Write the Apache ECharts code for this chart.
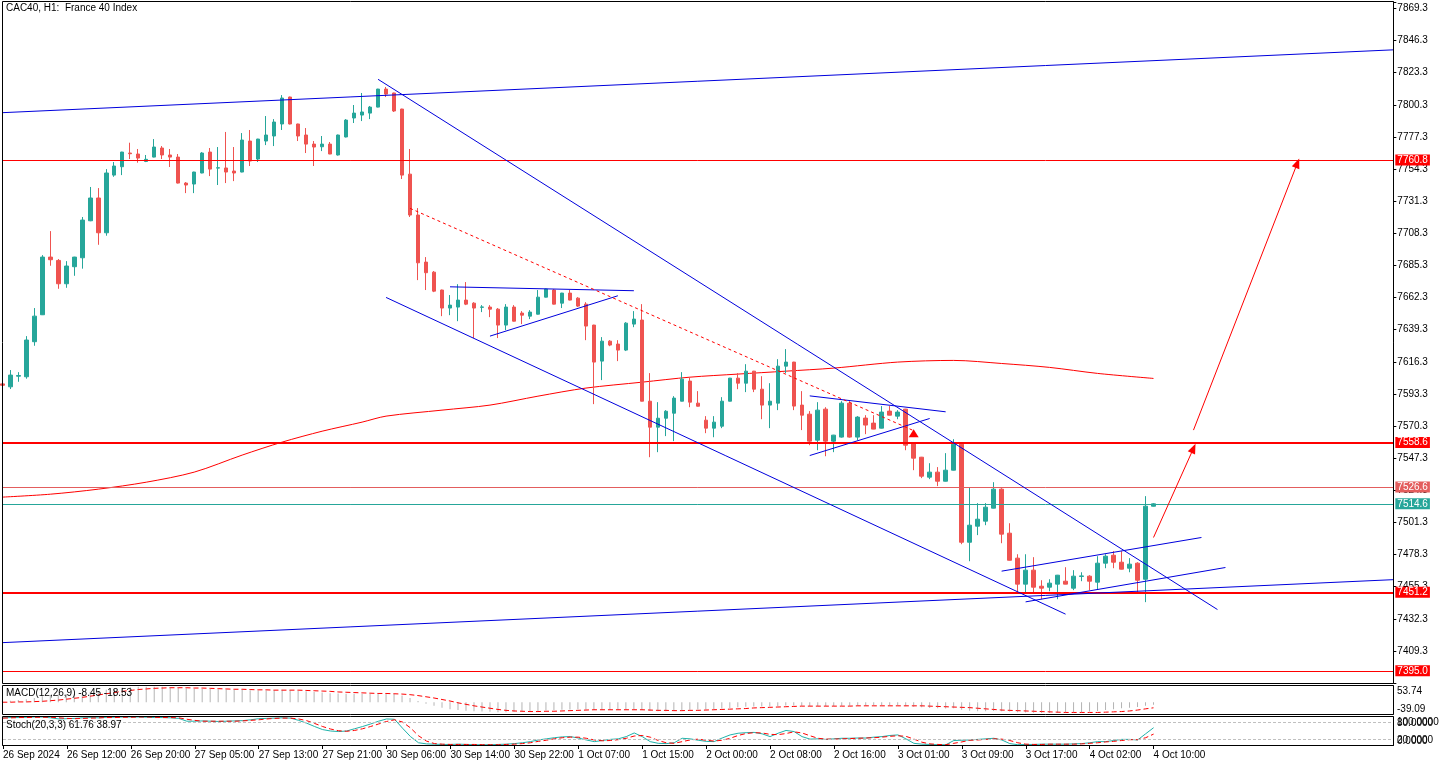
<!DOCTYPE html>
<html><head><meta charset="utf-8">
<script src="https://cdn.jsdelivr.net/npm/echarts@6/dist/echarts.min.js"></script>
<style>html,body{margin:0;padding:0;background:#fff}#c{width:1441px;height:766px}</style>
</head><body><div id="c"></div>
<script>
// ---------- data ----------
const tickLabels = ['26 Sep 2024','26 Sep 12:00','26 Sep 20:00','27 Sep 05:00','27 Sep 13:00','27 Sep 21:00','30 Sep 06:00','30 Sep 14:00','30 Sep 22:00','1 Oct 07:00','1 Oct 15:00','2 Oct 00:00','2 Oct 08:00','2 Oct 16:00','3 Oct 01:00','3 Oct 09:00','3 Oct 17:00','4 Oct 02:00','4 Oct 10:00'];

const opens = [7600.5,7598.4,7606.0,7605.6,7630.7,7650.0,7691.3,7688.9,7672.2,7684.4,
 7690.8,7717.3,7733.6,7708.7,7750.0,7756.0,7765.8,7765.1,7759.8,7762.9,
 7769.4,7764.4,7762.9,7744.3,7743.6,7751.5,7766.5,7755.0,7755.1,7752.9,
 7752.2,7774.4,7761.5,7774.4,7778.0,7786.6,7805.9,7786.6,7778.7,7772.2,
 7770.3,7772.2,7764.4,7777.3,7790.9,7793.0,7794.4,7798.7,7811.6,7808.8,
 7797.3,7750.7,7721.4,7687.7,7680.5,7667.7,7654.8,7655.5,7660.5,7658.3,
 7655.3,7655.5,7654.0,7642.6,7655.5,7651.2,7649.0,7650.4,7662.6,7667.7,
 7658.3,7665.5,7661.9,7657.6,7642.6,7616.8,7631.1,7629.0,7624.7,7643.3,
 7646.2,7588.1,7569.5,7575.9,7579.5,7588.1,7602.5,7586.7,7574.5,7568.8,
 7570.2,7588.1,7604.6,7601.0,7609.6,7596.7,7585.3,7586.7,7613.2,7616.1,
 7585.3,7578.8,7560.2,7582.4,7559.5,7562.4,7586.7,7562.4,7576.0,7572.4,
 7568.8,7581.0,7577.4,7582.4,7558.1,7548.0,7533.7,7537.3,7530.8,7538.7,
 7557.3,7487.1,7498.6,7502.2,7511.5,7525.1,7493.6,7475.7,7457.1,7467.1,
 7455.6,7454.9,7457.1,7459.2,7454.2,7462.6,7462.8,7458.5,7472.1,7477.8,
 7472.8,7468.5,7472.1,7460.6,7512.9];
const highs = [7601.5,7610.4,7608.9,7634.7,7654.8,7692.7,7709.9,7689.9,7688.4,7691.5,
 7720.0,7741.5,7740.7,7754.3,7759.4,7766.7,7773.2,7768.7,7764.4,7775.8,
 7770.8,7768.7,7765.1,7745.0,7752.4,7766.5,7769.4,7770.1,7780.9,7770.1,
 7780.1,7782.3,7776.0,7792.3,7790.1,7807.3,7806.2,7786.8,7783.7,7774.4,
 7778.0,7773.7,7779.0,7790.1,7800.2,7808.8,7799.5,7811.8,7813.1,7809.0,
 7797.5,7768.7,7726.4,7691.3,7681.3,7668.0,7664.1,7671.9,7673.4,7659.0,
 7656.9,7656.9,7654.8,7657.6,7656.9,7652.6,7653.3,7667.7,7668.6,7668.4,
 7665.7,7667.7,7662.6,7659.0,7642.8,7634.0,7631.8,7631.8,7644.7,7652.6,
 7657.6,7608.2,7587.4,7581.7,7591.7,7608.9,7605.3,7595.3,7577.4,7577.4,
 7591.0,7604.8,7608.2,7614.6,7609.8,7606.0,7601.0,7618.2,7625.4,7616.3,
 7595.3,7581.0,7587.4,7583.8,7564.0,7588.1,7588.1,7577.4,7578.1,7578.1,
 7584.6,7584.6,7581.7,7582.6,7558.3,7548.2,7543.7,7540.9,7550.9,7560.9,
 7558.8,7526.5,7515.1,7515.1,7530.1,7525.8,7500.7,7478.5,7478.5,7476.4,
 7459.9,7460.6,7463.7,7469.2,7467.1,7465.6,7463.5,7477.1,7478.5,7480.7,
 7480.7,7475.7,7472.8,7520.1,7515.1];
const lows = [7599.0,7596.8,7602.0,7604.2,7627.8,7649.8,7685.1,7668.6,7669.3,7677.9,
 7683.0,7717.0,7700.1,7706.6,7748.8,7750.0,7761.5,7758.9,7759.3,7762.7,
 7761.5,7755.8,7744.0,7737.1,7737.1,7751.3,7749.3,7742.9,7744.3,7745.7,
 7752.0,7756.5,7759.4,7771.5,7770.8,7782.3,7786.3,7774.4,7765.8,7756.5,
 7767.2,7765.0,7764.0,7777.0,7787.3,7788.7,7790.1,7798.5,7805.9,7795.2,
 7747.2,7720.0,7674.8,7667.7,7666.2,7649.0,7649.7,7645.4,7656.9,7633.3,
 7651.9,7648.3,7633.3,7639.0,7645.2,7643.3,7646.9,7650.2,7662.4,7657.4,
 7654.8,7660.3,7655.5,7631.8,7586.0,7603.2,7627.5,7616.8,7624.0,7641.1,
 7588.0,7548.0,7551.6,7563.1,7559.5,7588.0,7583.8,7584.3,7565.2,7562.3,
 7568.8,7588.0,7596.7,7594.6,7594.6,7575.2,7568.8,7581.7,7608.2,7581.7,
 7567.4,7556.6,7553.0,7548.7,7551.6,7562.0,7562.0,7560.2,7564.5,7568.0,
 7568.6,7578.0,7575.2,7553.0,7538.7,7533.0,7532.3,7527.3,7530.6,7538.5,
 7485.7,7473.5,7492.2,7499.3,7511.3,7486.4,7474.0,7451.3,7451.3,7451.3,
 7446.3,7452.0,7446.3,7457.0,7452.8,7459.2,7452.8,7453.5,7468.5,7468.5,
 7467.6,7465.6,7450.6,7444.2,7512.7];
const closes = [7599.5,7606.8,7606.5,7631.9,7649.0,7691.3,7689.4,7672.2,7684.9,7691.3,
 7717.8,7733.6,7708.7,7751.5,7756.5,7766.5,7765.3,7762.2,7761.3,7770.1,
 7764.4,7762.9,7744.3,7742.9,7752.2,7765.8,7754.3,7755.3,7752.2,7751.5,
 7775.1,7760.1,7775.8,7778.7,7788.0,7805.2,7786.6,7778.0,7772.2,7770.1,
 7772.2,7765.1,7778.7,7789.4,7794.4,7795.2,7798.7,7811.6,7808.0,7795.9,
 7750.0,7721.4,7687.2,7680.1,7666.9,7654.8,7656.9,7660.5,7657.6,7654.8,
 7655.6,7654.0,7642.6,7655.5,7645.4,7649.7,7651.9,7662.6,7668.4,7657.6,
 7665.5,7660.5,7656.2,7641.9,7616.1,7631.1,7628.3,7624.7,7644.0,7646.9,
 7588.1,7569.5,7575.9,7580.9,7590.3,7603.9,7587.4,7584.5,7568.8,7573.1,
 7588.1,7604.6,7601.0,7609.6,7596.7,7585.3,7588.1,7613.2,7616.1,7584.6,
 7578.1,7559.5,7581.7,7559.5,7563.8,7586.7,7562.4,7576.7,7571.0,7568.1,
 7580.3,7578.1,7580.3,7556.6,7547.3,7534.4,7537.3,7530.8,7538.7,7557.3,
 7487.1,7499.3,7503.6,7512.2,7525.1,7492.9,7474.2,7457.1,7467.1,7454.9,
 7454.2,7457.8,7463.5,7457.1,7462.8,7463.0,7459.2,7472.1,7477.1,7472.8,
 7467.8,7471.4,7459.9,7512.9,7514.6];

// moving average read at sample bars [barIndex, value]
const maPoints = [[0,7519.4],[6,7521.5],[12,7525.1],[18,7530.1],[24,7537.3],[30,7549.5],[35,7558.8],[40,7566.6],[45,7573.1],[48,7577.4],[55,7581.7],[61,7585.3],[67,7591.7],[73,7597.5],[80,7601.7],[86,7605.3],[92,7607.5],[98,7609.6],[104,7611.8],[112,7616.1],[119,7617.3],[125,7615.1],[131,7612.3],[137,7608.0],[144,7604.4]];

// horizontal levels
const levelValues = [7760.8, 7558.6, 7526.6, 7514.6, 7451.2, 7395.0];

// drawn objects: [barIndex, price]
const blueLines = [
 [[0,7794.7],[174,7839.7]],
 [[0,7415.2],[174,7460.3]],
 [[47,7818.6],[152,7438.9]],
 [[48,7662.4],[133,7435.6]],
 [[56,7670.0],[79,7667.2]],
 [[61,7634.7],[77,7663.6]],
 [[101,7591.9],[118,7580.5]],
 [[101,7549.2],[116,7575.7]],
 [[125,7466.4],[150,7490.5]],
 [[128,7444.4],[153,7469.0]]
];
const redDashedLine = [[51,7726.2],[114,7567.0]];
const redArrows = [ [[144,7490.5],[149,7554.3]], [[149,7567.4],[162,7758.6]] ];
const arrowMark = [114, 7565.2];

// indicators
const macdMain = [3,5,7,10,14,20,24,26,27,28,
 31,35,37,41,44,48,50,51,51,51,
 51,50,48,46,45,45,44,43,42,41,
 42,40,39,39,40,41,40,38,36,34,
 32,30,29,28,28,28,28,28,28,27,
 22,14,4,-5,-12,-18,-23,-26,-28,-30,
 -31,-32,-33,-33,-32,-31,-30,-29,-27,-26,
 -25,-24,-23,-24,-26,-26,-26,-26,-25,-24,
 -26,-29,-30,-30,-29,-27,-25,-24,-24,-23,
 -21,-19,-17,-15,-14,-14,-14,-13,-11,-11,
 -12,-13,-13,-13,-13,-12,-12,-12,-12,-11,
 -11,-11,-11,-13,-15,-17,-19,-20,-21,-20,
 -25,-28,-30,-30,-29,-30,-31,-33,-34,-35,
 -36,-36,-36,-35,-35,-33,-31,-29,-26,-23,
 -20,-18,-16,-12,-8.45];
const macdSignal = [0,0,1,1,2,3,5,7,10,13,
 16,20,24,28,32,36,39,42,44,46,
 47,48,48,48,47,47,46,45,44,43,
 43,42,41,41,40,40,40,40,39,38,
 37,36,34,33,32,31,30,29,29,28,
 27,25,22,18,14,9,4,-2,-7,-12,
 -16,-20,-24,-27,-29,-30,-31,-31,-30,-30,
 -29,-28,-27,-26,-25,-25,-25,-25,-25,-25,
 -25,-26,-27,-27,-28,-28,-27,-27,-26,-25,
 -24,-23,-22,-21,-19,-18,-17,-16,-15,-14,
 -13,-13,-13,-13,-13,-13,-13,-12,-12,-12,
 -12,-12,-12,-12,-12,-12,-13,-14,-15,-16,
 -17,-18,-20,-22,-24,-26,-27,-28,-29,-30,
 -31,-32,-33,-34,-34,-34,-34,-34,-33,-32,
 -31,-29,-26,-22,-18.53];
const stochMain = [97,98,98,99,100,100,97,93,94,95,
 97,98,97,99,99,100,100,100,99,98,
 98,97,95,85,85,86,85,84,85,86,
 87,90,94,95,96,97,96,88,78,66,
 55,50,48,50,58,66,75,85,93,92,
 60,30,8,4,3,2,2,3,2,1,
 1,1,2,3,5,8,12,18,22,26,
 29,30,25,18,12,16,20,22,30,43,
 30,12,6,5,8,24,22,17,13,12,
 25,36,42,44,45,40,30,42,52,48,
 30,21,22,20,22,24,24,25,25,28,
 30,34,36,22,6,3,2,1,1,16,
 17,18,20,22,24,18,5,1,2,2,
 3,3,3,3,4,5,8,12,12,16,
 20,20,18,40,61.76];
const stochSignal = [96,97,98,98,99,99,99,97,95,94,
 95,96,97,98,98,99,99,100,100,99,
 98,98,97,92,88,85,85,85,85,85,
 86,88,90,93,95,96,96,93,87,77,
 66,57,51,49,52,58,66,75,84,90,
 82,61,33,14,5,3,2,2,2,2,
 1,1,1,2,3,5,8,13,17,22,
 26,28,28,24,18,15,16,19,24,32,
 34,28,16,8,6,12,18,21,17,14,
 17,24,34,41,44,43,38,37,41,47,
 43,33,24,21,21,22,23,24,25,26,
 28,31,33,31,21,10,4,2,1,6,
 11,17,18,20,22,21,16,8,3,2,
 2,3,3,3,3,4,6,8,11,13,
 16,19,19,26,38.97];
const stochLevels = [80, 20];
const macdScaleLabels = ['53.74', '-39.09'];
const stochScaleLabels = ['100.0000', '80.0000', '20.0000', '0.0000'];
const titleText = 'CAC40, H1:  France 40 Index';
const macdTitle = 'MACD(12,26,9) -8.45 -18.53';
const stochTitle = 'Stoch(20,3,3) 61.76 38.97';

// ---------- chart ----------
const FONT = '"Liberation Sans", Arial, sans-serif';
const BULL = '#26a69a', BEAR = '#ef5350', BLUE = '#0000dd', RED = '#ff0000';
const NCAT = 175;
const cats = Array.from({length: NCAT}, (_, i) => String(i));
const GL = 2.33, GW = 1391;
const Y_MIN = 7386.3, Y_MAX = 7873.96, SHIFT = 3.3;

const levelStyles = [
  {c: RED, w: 1}, {c: RED, w: 2}, {c: '#e35d5d', w: 1},
  {c: BULL, w: 1}, {c: RED, w: 2}, {c: RED, w: 1}
];

const markLines = [];
levelValues.forEach((v, i) => {
  const s = levelStyles[i];
  markLines.push({
    yAxis: v,
    lineStyle: {color: s.c, width: s.w, type: 'solid'},
    label: {show: true, position: 'end', formatter: v.toFixed(1), color: '#fff',
      backgroundColor: s.c, padding: [1, 2, 0, 2], fontSize: 10, fontFamily: FONT, distance: 2}
  });
});
blueLines.forEach(l => markLines.push([
  {coord: l[0], lineStyle: {color: BLUE, width: 1, type: 'solid'}},
  {coord: l[1]}
]));
markLines.push([
  {coord: redDashedLine[0], lineStyle: {color: RED, width: 1, type: [3, 3]}},
  {coord: redDashedLine[1]}
]);
redArrows.forEach(l => markLines.push([
  {coord: l[0], symbol: 'none', lineStyle: {color: RED, width: 1, type: 'solid'}},
  {coord: l[1], symbol: 'triangle', symbolSize: [8, 10]}
]));

const isTick = (idx) => idx % 8 === 0 && idx / 8 < tickLabels.length;

const option = {
  animation: false,
  backgroundColor: '#fff',
  textStyle: {fontFamily: FONT},
  grid: [
    {left: GL, width: GW, top: 2, height: 681},
    {left: GL, width: GW, top: 686, height: 28},
    {left: GL, width: GW, top: 717, height: 28}
  ],
  xAxis: [0, 1, 2].map(g => ({
    type: 'category', gridIndex: g, data: cats, boundaryGap: false,
    axisLine: {show: g === 2, lineStyle: {color: '#000'}},
    axisTick: {show: g === 2, interval: (i) => isTick(i), length: 4, lineStyle: {color: '#000'}},
    axisLabel: {show: g === 2, interval: (i) => isTick(i), align: 'left', margin: 5,
      fontSize: 10, color: '#000', fontFamily: FONT,
      formatter: (val, idx) => isTick(idx) ? tickLabels[idx / 8] : ''},
    splitLine: {show: false}
  })),
  yAxis: [
    {type: 'value', gridIndex: 0, min: Y_MIN, max: Y_MAX, show: false, splitLine: {show: false}},
    {type: 'value', gridIndex: 0, position: 'right', min: Y_MIN - SHIFT, max: Y_MAX - SHIFT, interval: 23,
      axisLine: {show: true, lineStyle: {color: '#000'}},
      axisTick: {show: true, length: 3, lineStyle: {color: '#000'}},
      splitLine: {show: false},
      axisLabel: {fontSize: 10, color: '#000', margin: 4, fontFamily: FONT, showMinLabel: true, showMaxLabel: true,
        formatter: (u) => {
          const r = u / 23;
          if (Math.abs(r - Math.round(r)) > 1e-6) return '';
          const v = u + SHIFT;
          if (v < 7400) return '';
          return v.toFixed(1);
        }}},
    {type: 'value', gridIndex: 1, position: 'right', min: -39.09, max: 53.74,
      axisLine: {show: true, onZero: false, lineStyle: {color: '#000'}}, axisTick: {show: false},
      axisLabel: {show: false}, splitLine: {show: false}},
    {type: 'value', gridIndex: 2, position: 'right', min: 0, max: 100, interval: 20,
      axisLine: {show: true, onZero: false, lineStyle: {color: '#000'}}, axisTick: {show: false},
      axisLabel: {show: false}, splitLine: {show: false}}
  ],
  series: [
    {
      type: 'candlestick', xAxisIndex: 0, yAxisIndex: 0, barWidth: 4,
      data: opens.map((o, i) => [o, closes[i], lows[i], highs[i]]),
      itemStyle: {color: BULL, color0: BEAR, borderColor: BULL, borderColor0: BEAR, borderWidth: 1},
      z: 3
    },
    {
      type: 'line', xAxisIndex: 0, yAxisIndex: 0, data: maPoints, showSymbol: false, symbol: 'none',
      smooth: 0.3, lineStyle: {color: RED, width: 1}, z: 2,
      markLine: {silent: true, symbol: 'none', animation: false, data: markLines},
      markPoint: {silent: true, animation: false, data: [
        {coord: arrowMark, symbol: 'triangle', symbolSize: [10, 8], itemStyle: {color: RED}, label: {show: false}}
      ]}
    },
    {
      type: 'bar', xAxisIndex: 1, yAxisIndex: 2, data: macdMain, barWidth: 1,
      itemStyle: {color: '#b4b4b4'}
    },
    {
      type: 'line', xAxisIndex: 1, yAxisIndex: 2, data: macdSignal, showSymbol: false, symbol: 'none',
      lineStyle: {color: RED, width: 1, type: [5, 3]}
    },
    {
      type: 'line', xAxisIndex: 2, yAxisIndex: 3, data: stochMain, showSymbol: false, symbol: 'none',
      lineStyle: {color: '#20b2aa', width: 1},
      markLine: {silent: true, symbol: 'none', animation: false, label: {show: false},
        data: stochLevels.map(v => ({yAxis: v, lineStyle: {color: '#c0c0c0', width: 1, type: [3, 2]}}))}
    },
    {
      type: 'line', xAxisIndex: 2, yAxisIndex: 3, data: stochSignal, showSymbol: false, symbol: 'none',
      lineStyle: {color: RED, width: 1, type: [5, 3]}
    }
  ],
  graphic: [
    {type: 'rect', shape: {x: 2.5, y: 1.5, width: 1391, height: 682}, style: {fill: 'none', stroke: '#000', lineWidth: 1}, z: 100},
    {type: 'rect', shape: {x: 2.5, y: 685.5, width: 1391, height: 29}, style: {fill: 'none', stroke: '#000', lineWidth: 1}, z: 100},
    {type: 'rect', shape: {x: 2.5, y: 716.5, width: 1391, height: 29}, style: {fill: 'none', stroke: '#000', lineWidth: 1}, z: 100},
    {type: 'text', x: 6, y: 3, style: {text: titleText, fill: '#000', font: '10px ' + FONT}, z: 100},
    {type: 'text', x: 6, y: 688, style: {text: macdTitle, fill: '#000', font: '10px ' + FONT}, z: 100},
    {type: 'text', x: 6, y: 720, style: {text: stochTitle, fill: '#000', font: '10px ' + FONT}, z: 100},
    {type: 'text', x: 1397, y: 686, style: {text: macdScaleLabels[0], fill: '#000', font: '10px ' + FONT}, z: 100},
    {type: 'text', x: 1397, y: 704, style: {text: macdScaleLabels[1], fill: '#000', font: '10px ' + FONT}, z: 100},
    {type: 'text', x: 1397, y: 717, style: {text: stochScaleLabels[0], fill: '#000', font: '10px ' + FONT}, z: 100},
    {type: 'text', x: 1397, y: 718, style: {text: stochScaleLabels[1], fill: '#000', font: '10px ' + FONT}, z: 100},
    {type: 'text', x: 1397, y: 735, style: {text: stochScaleLabels[2], fill: '#000', font: '10px ' + FONT}, z: 100},
    {type: 'text', x: 1397, y: 736, style: {text: stochScaleLabels[3], fill: '#000', font: '10px ' + FONT}, z: 100}
  ]
};
const chart = echarts.init(document.getElementById('c'));
chart.setOption(option);
</script>
</body></html>
